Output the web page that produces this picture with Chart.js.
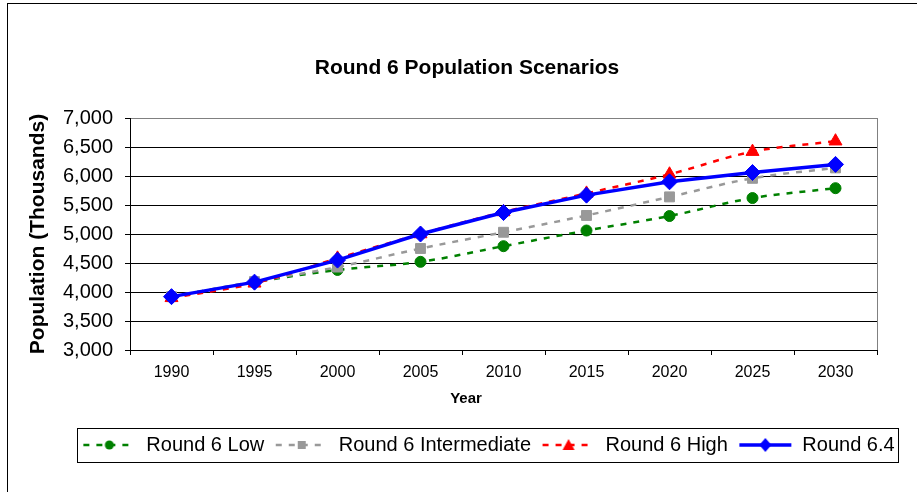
<!DOCTYPE html>
<html>
<head>
<meta charset="utf-8">
<title>Round 6 Population Scenarios</title>
<script src="https://cdn.jsdelivr.net/npm/chart.js@4.4.1/dist/chart.umd.min.js"></script>
<style>
  html, body { margin: 0; padding: 0; background: #fff; }
  #wrap { width: 917px; height: 492px; }
</style>
</head>
<body>
<div id="wrap"><canvas id="popChart" width="917" height="492"></canvas></div>
<script>
"use strict";

// Data (thousands)
const years = ["1990", "1995", "2000", "2005", "2010", "2015", "2020", "2025", "2030"];
const round6Low = [3920, 4170, 4380, 4520, 4790, 5060, 5310, 5620, 5790];
const round6Intermediate = [3920, 4180, 4430, 4750, 5030, 5320, 5640, 5960, 6140];
const round6High = [3900, 4150, 4580, 5000, 5380, 5700, 6030, 6420, 6600];
const round64 = [3920, 4170, 4550, 5000, 5370, 5670, 5900, 6060, 6200];
const yMin = 3000, yMax = 7000, yStep = 500;
const xTitle = "Year";

Chart.defaults.font.family = "'Liberation Sans', Arial, sans-serif";
Chart.defaults.color = "#000";

// Small legend pictures: dashed/solid line with the marker in the middle
function makeIcon(color, dash, lineWidth, shape) {
    var c = document.createElement("canvas");
    c.width = 54;
    c.height = 16;
    var g = c.getContext("2d");
    g.strokeStyle = color;
    g.fillStyle = color;
    g.lineWidth = lineWidth;
    g.setLineDash(dash);
    g.beginPath();
    g.moveTo(1, 8);
    g.lineTo(53, 8);
    g.stroke();
    g.setLineDash([]);
    g.beginPath();
    if (shape === "circle") {
        g.arc(27, 8, 4.5, 0, Math.PI * 2);
    } else if (shape === "rect") {
        g.rect(23, 4, 8, 8);
    } else if (shape === "triangle") {
        g.moveTo(27, 2);
        g.lineTo(33, 13);
        g.lineTo(21, 13);
        g.closePath();
    } else {
        g.moveTo(27, 1);
        g.lineTo(33, 8);
        g.lineTo(27, 15);
        g.lineTo(21, 8);
        g.closePath();
    }
    g.fill();
    return c;
}

const dash = [6, 7];
const icons = [
    makeIcon("#008000", dash, 2.5, "circle"),
    makeIcon("#999999", dash, 2.5, "rect"),
    makeIcon("#FF0000", dash, 2.5, "triangle"),
    makeIcon("#0000FF", [], 3.5, "diamond")
];

// Outer frame, right plot edge, legend box
const framePlugin = {
    id: "frame",
    afterLayout: function (chart) {
        // Excel centres the title and "Year" on the whole chart object
        if (chart.titleBlock) {
            chart.titleBlock.left = 0;
            chart.titleBlock.right = 934;
        }
        chart.boxes.forEach(function (b) {
            if (b.options && b.options.text === xTitle) {
                b.left = 0;
                b.right = 932;
            }
        });
    },
    beforeDraw: function (chart) {
        var ctx = chart.ctx;
        ctx.save();
        ctx.fillStyle = "#fff";
        ctx.fillRect(0, 0, chart.width, chart.height);
        ctx.strokeStyle = "#000";
        ctx.lineWidth = 1;
        ctx.strokeRect(7.5, 3.5, 1200, 1200);
        ctx.restore();
    },
    afterDraw: function (chart) {
        var ctx = chart.ctx;
        var a = chart.chartArea;
        ctx.save();
        ctx.strokeStyle = "#808080";
        ctx.lineWidth = 1;
        ctx.beginPath();
        ctx.moveTo(Math.round(a.right) + 0.5, a.top);
        ctx.lineTo(Math.round(a.right) + 0.5, a.bottom);
        ctx.stroke();

        var boxes = chart.legend && chart.legend.legendHitBoxes;
        if (boxes && boxes.length) {
            var first = boxes[0], last = boxes[boxes.length - 1];
            var cy = first.top + first.height / 2;
            var x0 = Math.round(first.left - 5) + 0.5;
            var x1 = Math.round(last.left + last.width + 3) + 0.5;
            ctx.strokeStyle = "#000";
            ctx.strokeRect(x0, Math.round(cy - 17) + 0.5, x1 - x0, 34);
        }
        ctx.restore();
    }
};

const ctx = document.getElementById("popChart").getContext("2d");
const popChart = new Chart(ctx, {
    type: "line",
    data: {
        labels: years,
        datasets: [{
            label: "Round 6 Low",
            data: round6Low,
            borderColor: "#008000",
            backgroundColor: "#008000",
            borderWidth: 2.5,
            borderDash: dash,
            pointStyle: "circle",
            pointRadius: 5.5,
            pointBorderWidth: 1,
            tension: 0.35,
            order: 3
        }, {
            label: "Round 6 Intermediate",
            data: round6Intermediate,
            borderColor: "#999999",
            backgroundColor: "#999999",
            borderWidth: 2.5,
            borderDash: dash,
            pointStyle: "rect",
            pointRadius: 7,
            pointBorderWidth: 1,
            tension: 0.35,
            order: 2
        }, {
            label: "Round 6 High",
            data: round6High,
            borderColor: "#FF0000",
            backgroundColor: "#FF0000",
            borderWidth: 2.5,
            borderDash: dash,
            pointStyle: "triangle",
            pointRadius: 7.5,
            pointBorderWidth: 1,
            tension: 0.35,
            order: 1
        }, {
            label: "Round 6.4",
            data: round64,
            borderColor: "#0000FF",
            backgroundColor: "#0000FF",
            borderWidth: 3.5,
            pointStyle: "rectRot",
            pointRadius: 8,
            pointBorderWidth: 1,
            tension: 0,
            order: 0
        }]
    },
    options: {
        responsive: false,
        animation: false,
        events: [],
        layout: {
            padding: { top: 0, left: 60, right: 0, bottom: 27 }
        },
        plugins: {
            title: {
                display: true,
                text: "Round 6 Population Scenarios",
                color: "#000",
                font: { size: 21, weight: "bold" },
                padding: { top: 55.4, bottom: 37.4 }
            },
            subtitle: {
                display: true,
                text: xTitle,
                position: "bottom",
                weight: 500,
                color: "#000",
                font: { size: 15, weight: "bold" },
                padding: { top: 0, bottom: 16.5 }
            },
            legend: {
                display: true,
                position: "bottom",
                align: "center",
                labels: {
                    usePointStyle: true,
                    pointStyleWidth: 54,
                    padding: 10.5,
                    color: "#000",
                    font: { size: 20 },
                    sort: function (a, b) { return a.datasetIndex - b.datasetIndex; },
                    generateLabels: function (chart) {
                        var items = Chart.defaults.plugins.legend.labels.generateLabels(chart);
                        items.forEach(function (item) {
                            item.pointStyle = icons[item.datasetIndex];
                        });
                        return items;
                    }
                }
            },
            tooltip: { enabled: false }
        },
        scales: {
            x: {
                offset: true,
                afterFit: function (scale) { scale.height = 40; },
                grid: {
                    offset: true,
                    drawOnChartArea: false,
                    drawTicks: true,
                    tickLength: 5,
                    tickColor: "#000"
                },
                border: { display: true, color: "#000", width: 1 },
                ticks: {
                    color: "#000",
                    font: { size: 16 },
                    padding: 8.4,
                    maxRotation: 0,
                    autoSkip: false
                }
            },
            y: {
                min: yMin,
                max: yMax,
                afterFit: function (scale) { scale.width = 70; },
                grid: {
                    color: function (c) {
                        return c.tick && c.tick.value === yMax ? "#808080" : "#000";
                    },
                    tickColor: "#000",
                    tickLength: 5,
                    drawTicks: true
                },
                border: { display: true, color: "#000", width: 1 },
                ticks: {
                    stepSize: yStep,
                    autoSkip: false,
                    color: "#000",
                    font: { size: 20 },
                    padding: 12
                },
                title: {
                    display: true,
                    text: "Population (Thousands)",
                    color: "#000",
                    font: { size: 21, weight: "bold" },
                    padding: { top: -34.6, bottom: 0 }
                }
            },
            // empty strip on the right so the plot ends where the reference does
            yRight: {
                type: "linear",
                axis: "y",
                position: "right",
                min: 0,
                max: 1,
                afterFit: function (scale) { scale.width = 40; },
                grid: { display: false, drawTicks: false },
                border: { display: false },
                ticks: { display: false }
            }
        }
    },
    plugins: [framePlugin]
});
</script>
</body>
</html>
